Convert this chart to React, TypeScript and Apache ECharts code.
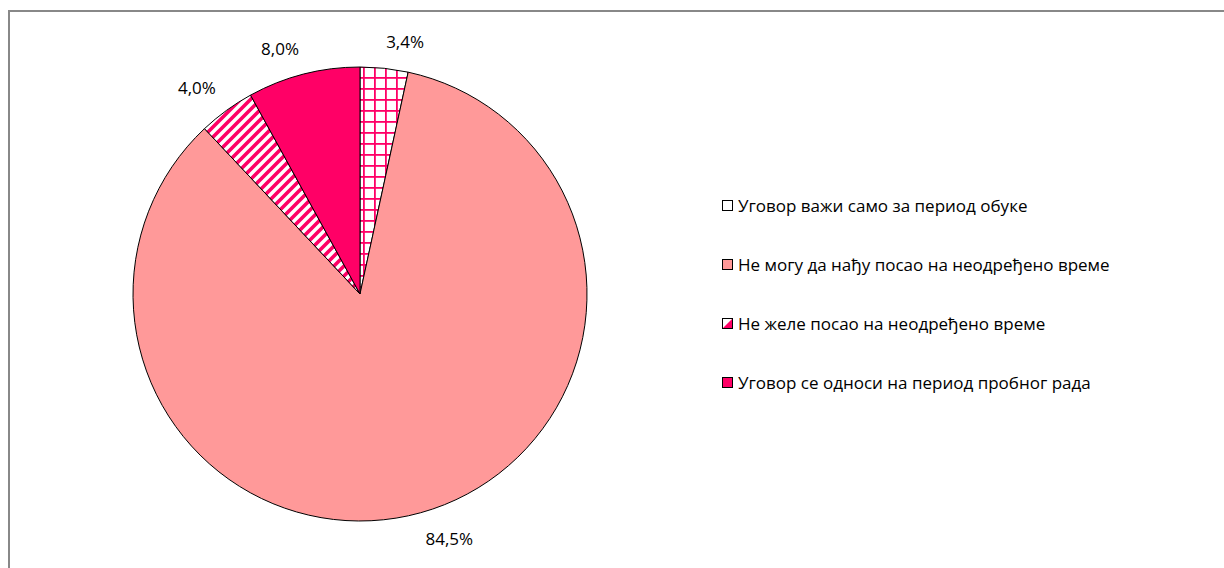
import React, { useEffect, useRef } from 'react';
import * as echarts from 'echarts';

// ---- data ----
const categories = [
  'Уговор важи само за период обуке',
  'Не могу да нађу посао на неодређено време',
  'Не желе посао на неодређено време',
  'Уговор се односи на период пробног рада',
];
const shares = [3.4, 84.5, 4.0, 8.0];

// ---- styles ----
const PINK = '#FF0066';
const SALMON = '#FF9999';
const FONT = '"Open Sans", "Noto Sans", sans-serif';
const FONT_SIZE = 17;
const CENTER = [360, 294];
const RADIUS = 227;

const svgUri = (svg: string) => 'data:image/svg+xml;charset=utf-8,' + encodeURIComponent(svg);

const gridTile = svgUri(
  `<svg xmlns='http://www.w3.org/2000/svg' width='11' height='11'><rect width='11' height='11' fill='#fff'/><rect x='0' y='0' width='11' height='1.8' fill='${PINK}'/><rect x='0' y='0' width='1.8' height='11' fill='${PINK}'/></svg>`
);
const stripeTile = svgUri(
  `<svg xmlns='http://www.w3.org/2000/svg' width='10' height='10'><rect width='10' height='10' fill='#fff'/><path d='M-3,3 L3,-3 M0,10 L10,0 M7,13 L13,7' stroke='${PINK}' stroke-width='3.6'/></svg>`
);

const fills: any[] = [
  { image: gridTile, repeat: 'repeat', imageWidth: 11, imageHeight: 11 },
  SALMON,
  { image: stripeTile, repeat: 'repeat', imageWidth: 10, imageHeight: 10 },
  PINK,
];

const iconSvg = (inner: string) =>
  'image://' +
  svgUri(`<svg xmlns='http://www.w3.org/2000/svg' width='11' height='11' viewBox='0 0 11 11'>${inner}<rect x='0.5' y='0.5' width='10' height='10' fill='none' stroke='#000' stroke-width='1'/></svg>`);

const legendIcons = [
  iconSvg(`<rect x='0.5' y='0.5' width='10' height='10' fill='#fff'/>`),
  iconSvg(`<rect x='0.5' y='0.5' width='10' height='10' fill='${SALMON}'/>`),
  iconSvg(`<rect x='0.5' y='0.5' width='10' height='10' fill='#fff'/><polygon points='10.5,0.5 10.5,10.5 0.5,10.5' fill='${PINK}'/>`),
  iconSvg(`<rect x='0.5' y='0.5' width='10' height='10' fill='${PINK}'/>`),
];

export default function App() {
  const ref = useRef<HTMLDivElement>(null);
  useEffect(() => {
    const chart = echarts.init(ref.current!, null, { renderer: 'svg' });
    chart.setOption({
      animation: false,
      backgroundColor: '#fff',
      graphic: [
        {
          type: 'rect',
          silent: true,
          z: -1,
          shape: { x: 9, y: 11, width: 1400, height: 800 },
          style: { fill: 'none', stroke: '#888', lineWidth: 2 },
        },
      ],
      legend: {
        orient: 'vertical',
        left: 717,
        top: 192,
        itemWidth: 11,
        itemHeight: 11,
        itemGap: 42,
        selectedMode: false,
        textStyle: { fontFamily: FONT, fontSize: FONT_SIZE, color: '#000' },
        data: categories.map((name, i) => ({ name, icon: legendIcons[i] })),
      },
      series: [
        {
          type: 'pie',
          center: CENTER,
          radius: RADIUS,
          startAngle: 90,
          clockwise: true,
          avoidLabelOverlap: false,
          itemStyle: { borderColor: '#000', borderWidth: 1 },
          label: {
            show: true,
            position: 'outside',
            distanceToLabelLine: 0,
            fontFamily: FONT,
            fontSize: FONT_SIZE,
            color: '#000',
            formatter: (p: any) => p.value.toFixed(1).replace('.', ',') + '%',
          },
          labelLine: { show: false, length: 18, length2: 0 },
          labelLayout: (p: any) => {
            const r = p.labelRect;
            const up = r.y + r.height / 2 < CENTER[1];
            return { dy: up ? -r.height / 2 : r.height / 2 };
          },
          emphasis: { disabled: true },
          data: categories.map((name, i) => ({
            name,
            value: shares[i],
            itemStyle: { color: fills[i] },
          })),
        },
      ],
    });
    return () => chart.dispose();
  }, []);
  return (
    <div
      ref={ref}
      style={{ position: 'absolute', left: 0, top: 0, width: 1224, height: 568, background: '#fff' }}
    />
  );
}
